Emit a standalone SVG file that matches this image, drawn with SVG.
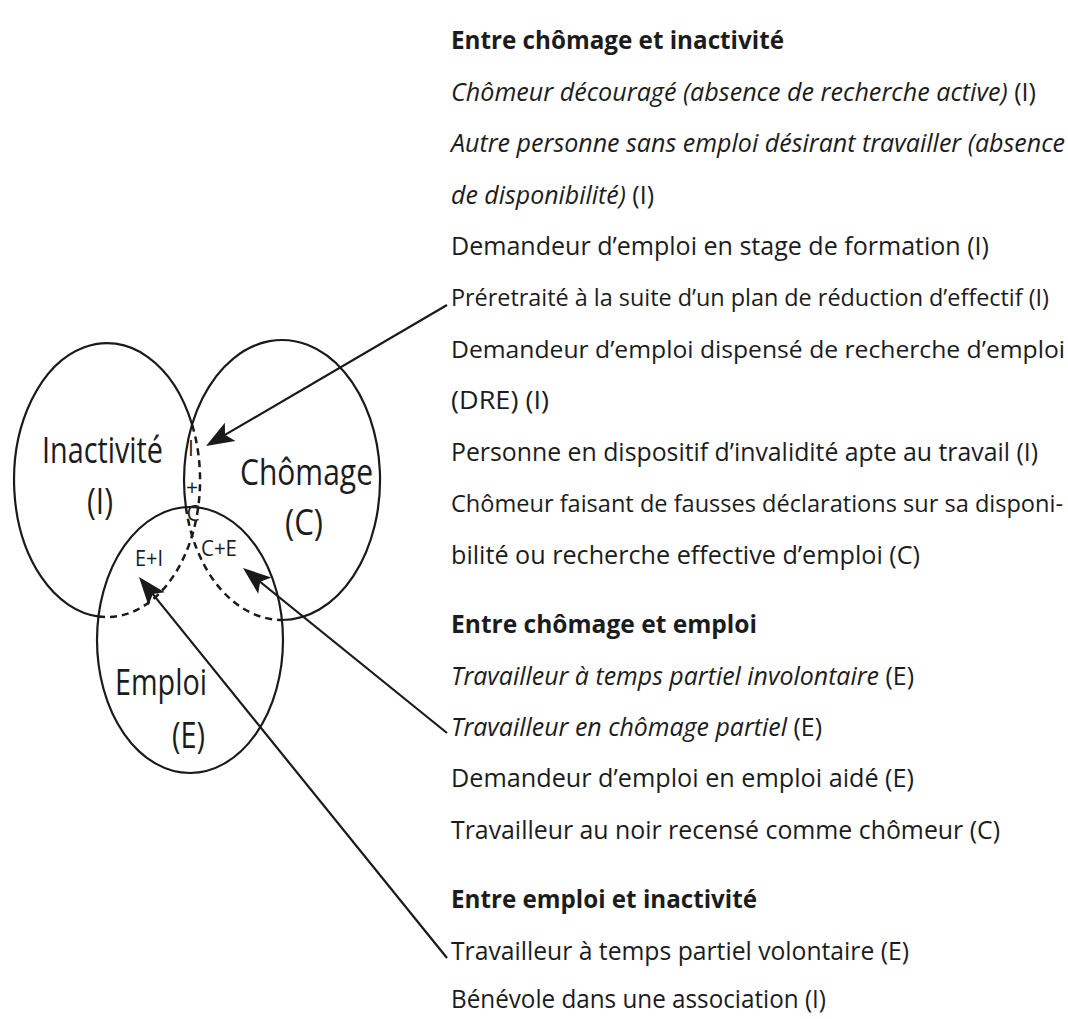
<svg xmlns="http://www.w3.org/2000/svg" width="1068" height="1019" viewBox="0 0 1068 1019">
<style>
.c{fill:none;stroke:#1a1a1a;stroke-width:2.2}
.d{fill:none;stroke:#1a1a1a;stroke-width:2.5;stroke-dasharray:7 5}
.ln{fill:none;stroke:#1a1a1a;stroke-width:2.2;marker-end:url(#ah)}
text{font-family:"Open Sans","Noto Sans","DejaVu Sans",sans-serif;fill:#1c1c1c}
.t{font-size:25px}
.n{font-size:24px}
.b{font-weight:bold}
.i{font-style:italic}
.v{font-size:36px}
.s{font-size:21px}
.m{font-size:21px;text-anchor:middle}
</style>
<defs>
<marker id="ah" viewBox="-16 -12 32 24" markerWidth="32" markerHeight="24" refX="0" refY="0" orient="auto" markerUnits="userSpaceOnUse">
<path d="M14,0 L-14,-10.5 L-8,0 L-14,10.5 Z" fill="#1a1a1a"/>
</marker>
</defs>
<rect width="1068" height="1019" fill="#ffffff"/>

<g id="inactivite">
<path class="c" d="M192.2,425 A93 137 0 1 0 99,616.6"/>
<path class="d" d="M192.2,425 A93 137 0 0 1 99,616.6"/>
<text class="v" x="42" y="463" textLength="121" lengthAdjust="spacingAndGlyphs">Inactivité</text>
<text class="v" x="87" y="514" textLength="26" lengthAdjust="spacingAndGlyphs">(I)</text>
</g>

<g id="chomage">
<path class="c" d="M281.9,620 A98 140 0 1 0 185.9,507.1"/>
<path class="d" d="M185.9,507.1 A98 140 0 0 0 281.9,620"/>
<text class="v" x="240" y="485" textLength="133" lengthAdjust="spacingAndGlyphs">Chômage</text>
<text class="v" x="285" y="535" textLength="38" lengthAdjust="spacingAndGlyphs">(C)</text>
</g>

<g id="emploi">
<ellipse class="c" cx="190" cy="640" rx="93" ry="133"/>
<text class="v" x="115" y="695" textLength="92" lengthAdjust="spacingAndGlyphs">Emploi</text>
<text class="v" x="172" y="748" textLength="33" lengthAdjust="spacingAndGlyphs">(E)</text>
</g>

<g id="overlap-i-c">
<text class="m" x="191" y="456">I</text>
<text class="m" x="192" y="495">+</text>
<text class="m" x="193" y="521">C</text>
</g>
<g id="overlap-e-i">
<text class="s" x="135" y="566" textLength="28" lengthAdjust="spacingAndGlyphs">E+I</text>
</g>
<g id="overlap-c-e">
<text class="s" x="201" y="556" textLength="36" lengthAdjust="spacingAndGlyphs">C+E</text>
</g>

<g id="connectors">
<path class="ln" d="M447,305 L218.1,438.9"/>
<path class="ln" d="M447,733 L253.9,576.8"/>
<path class="ln" d="M447,958 L147.8,587.9"/>
</g>

<g id="chomage-inactivite">
<text class="t b" x="451" y="49" textLength="333" lengthAdjust="spacingAndGlyphs">Entre chômage et inactivité</text>
<text class="t" x="451" y="100.5" textLength="585" lengthAdjust="spacingAndGlyphs"><tspan class="i">Chômeur découragé (absence de recherche active)</tspan> (I)</text>
<text class="t i" x="451" y="152" textLength="614" lengthAdjust="spacingAndGlyphs">Autre personne sans emploi désirant travailler (absence</text>
<text class="t" x="451" y="203.5" textLength="203" lengthAdjust="spacingAndGlyphs"><tspan class="i">de disponibilité)</tspan> (I)</text>
<text class="t" x="451" y="255" textLength="538" lengthAdjust="spacingAndGlyphs">Demandeur d’emploi en stage de formation (I)</text>
<text class="n" x="451" y="306" textLength="598" lengthAdjust="spacingAndGlyphs">Préretraité à la suite d’un plan de réduction d’effectif (I)</text>
<text class="n" x="451" y="357.5" textLength="614" lengthAdjust="spacingAndGlyphs">Demandeur d’emploi dispensé de recherche d’emploi</text>
<text class="t" x="451" y="409" textLength="98" lengthAdjust="spacingAndGlyphs">(DRE) (I)</text>
<text class="t" x="451" y="460.5" textLength="587" lengthAdjust="spacingAndGlyphs">Personne en dispositif d’invalidité apte au travail (I)</text>
<text class="n" x="451" y="512" textLength="612" lengthAdjust="spacingAndGlyphs">Chômeur faisant de fausses déclarations sur sa disponi-</text>
<text class="t" x="451" y="563.5" textLength="469" lengthAdjust="spacingAndGlyphs">bilité ou recherche effective d’emploi (C)</text>
</g>

<g id="chomage-emploi">
<text class="t b" x="451" y="633" textLength="306" lengthAdjust="spacingAndGlyphs">Entre chômage et emploi</text>
<text class="t" x="451" y="685" textLength="463" lengthAdjust="spacingAndGlyphs"><tspan class="i">Travailleur à temps partiel involontaire</tspan> (E)</text>
<text class="t" x="451" y="736" textLength="371" lengthAdjust="spacingAndGlyphs"><tspan class="i">Travailleur en chômage partiel</tspan> (E)</text>
<text class="t" x="451" y="787" textLength="463" lengthAdjust="spacingAndGlyphs">Demandeur d’emploi en emploi aidé (E)</text>
<text class="t" x="451" y="839" textLength="549" lengthAdjust="spacingAndGlyphs">Travailleur au noir recensé comme chômeur (C)</text>
</g>

<g id="emploi-inactivite">
<text class="t b" x="451" y="908" textLength="306" lengthAdjust="spacingAndGlyphs">Entre emploi et inactivité</text>
<text class="t" x="451" y="960" textLength="458" lengthAdjust="spacingAndGlyphs">Travailleur à temps partiel volontaire (E)</text>
<text class="t" x="451" y="1008" textLength="375" lengthAdjust="spacingAndGlyphs">Bénévole dans une association (I)</text>
</g>
</svg>
